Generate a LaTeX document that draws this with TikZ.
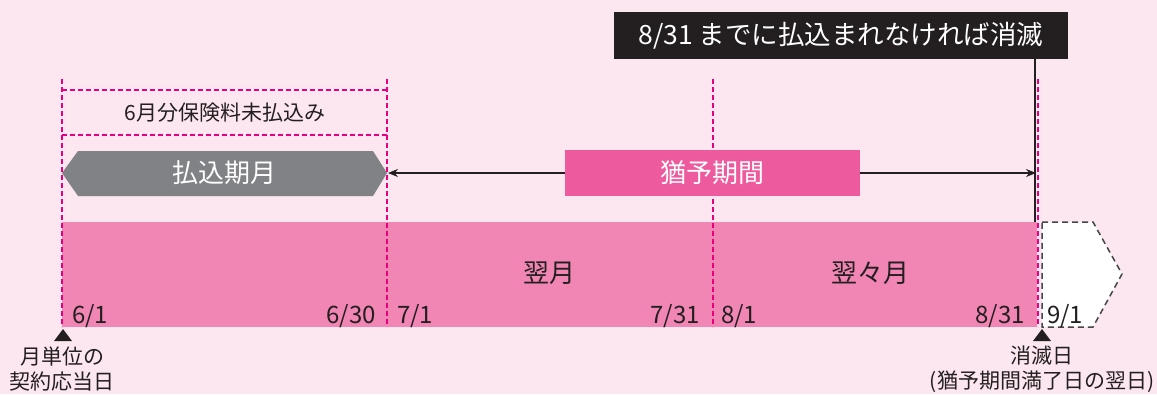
\documentclass[tikz,border=0pt]{standalone}
\usepackage{fontspec}
\setmainfont{Noto Sans CJK JP}
\usetikzlibrary{arrows.meta}
\definecolor{bgpink}{RGB}{252,231,241}
\definecolor{barpink}{RGB}{241,134,180}
\definecolor{boxpink}{RGB}{238,90,158}
\definecolor{magline}{RGB}{232,0,128}
\definecolor{hexgray}{RGB}{128,130,133}
\definecolor{inkdark}{RGB}{35,31,32}
\definecolor{penline}{RGB}{70,70,72}
\tikzset{
  magdash/.style={draw=magline,line width=2pt,dash pattern=on 5pt off 3pt},
  datelbl/.style={inner sep=0pt,text=inkdark,font=\fontsize{24}{28}\selectfont},
  monthlbl/.style={inner sep=0pt,text=inkdark,font=\fontsize{26}{30}\selectfont},
  botlbl/.style={inner sep=0pt,text=inkdark,align=center,font=\fontsize{21}{25}\selectfont},
  whitelbl/.style={inner sep=0pt,text=white,font=\fontsize{26}{30}\selectfont},
  marker/.style={fill=inkdark},
}
\begin{document}
\begin{tikzpicture}[x=1pt,y=-1pt]
\useasboundingbox (0,0) rectangle (1157,394);
\fill[bgpink] (0,0) rectangle (1157,394);
% main bar
\fill[barpink] (62,222) rectangle (1037,327);
% next month pentagon
\draw[fill=white,draw=penline,line width=1.5pt,dash pattern=on 6pt off 4pt]
  (1042,222) -- (1093,222) -- (1122,274) -- (1093,327) -- (1042,327) -- cycle;
% dashed vertical lines
\foreach \xx in {62,387,713,1038} { \draw[magdash] (\xx,79) -- (\xx,327); }
% dashed box
\draw[magdash] (62,90) -- (387,90);
\draw[magdash] (62,135) -- (387,135);
\node[inner sep=0pt,text=inkdark,font=\fontsize{21}{25}\selectfont] (unpaid) at (225,113) {6月分保険料未払込み};
% hexagon
\fill[hexgray] (62,173) -- (78,151) -- (373,151) -- (387,173) -- (373,196) -- (78,196) -- cycle;
\node[whitelbl] (payperiod) at (224,173) {払込期月};
\coordinate (hexR) at (388,173);
\coordinate (graceEnd) at (1036,173);
% arrow
\draw[inkdark,line width=1.2pt,{Stealth[length=10pt,width=8pt]}-{Stealth[length=10pt,width=8pt]}] (hexR) -- (graceEnd);
% grace box
\node[fill=boxpink,minimum width=295pt,minimum height=46pt,inner sep=0pt,text=white,font=\fontsize{26}{30}\selectfont] (grace) at (712.5,173) {猶予期間};
% black box
\node[fill=inkdark,minimum width=454pt,minimum height=47pt,inner sep=0pt,text=white,font=\fontsize{26.5}{30}\selectfont] (lapse) at (841,35.5) {8/31 までに払込まれなければ消滅};
\coordinate (lapseFoot) at (1035,222);
\draw[inkdark,line width=2pt] (lapse.south -| lapseFoot) -- (lapseFoot);
% month labels
\node[monthlbl] (m2) at (549,273) {翌月};
\node[monthlbl] (m3) at (870,273) {翌々月};
% dates
\node[datelbl,anchor=base west] (d1) at (72,323) {6/1};
\node[datelbl,anchor=base east] (d2) at (376,323) {6/30};
\node[datelbl,anchor=base west] (d3) at (397,323) {7/1};
\node[datelbl,anchor=base east] (d4) at (700,323) {7/31};
\node[datelbl,anchor=base west] (d5) at (721,323) {8/1};
\node[datelbl,anchor=base east] (d6) at (1025,323) {8/31};
\node[datelbl,anchor=base west] (d7) at (1047,323) {9/1};
% triangles
\fill[marker] (63,329) -- (72,341) -- (54,341) -- cycle;
\fill[marker] (1042,329) -- (1051,341) -- (1033,341) -- cycle;
% bottom labels
\node[botlbl] (contract) at (62,369) {月単位の\\契約応当日};
\node[botlbl] (lapseday) at (1042,369) {消滅日\\(猶予期間満了日の翌日)};
\end{tikzpicture}
\end{document}
